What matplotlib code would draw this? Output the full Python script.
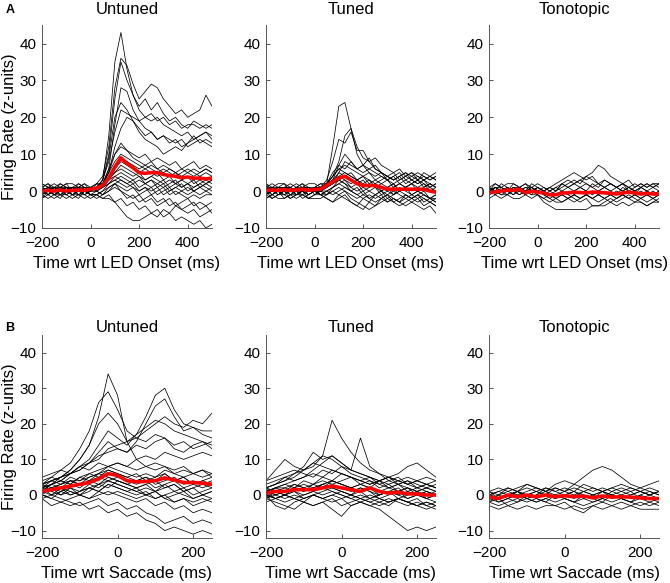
import numpy as np
import matplotlib
matplotlib.use('agg')
import matplotlib.pyplot as plt

plt.rcParams['font.family'] = ['Liberation Sans', 'DejaVu Sans']

# time grids (ms)
t_led = list(range(-200, 501, 25))
t_sac = list(range(-200, 251, 25))

# ---- A: aligned to LED onset ----
untuned_led = [
    [1,0,1,0,1,0,1,0,1, 1,3,15,35,43,33,26,23,25,22,24,21,19,20,18,17,19,18,17,18],
    [0,1,0,1,0,1,0,0,1, 2,4,12,28,36,34,29,25,27,29,28,25,23,21,22,20,21,22,26,23],
    [1,0,1,1,0,1,0,1,0, 1,3,10,25,35,30,26,22,20,21,19,20,18,19,17,18,18,17,18,17],
    [0,1,0,0,1,0,1,0,0, 1,2,6,18,28,27,22,19,17,16,14,15,14,13,14,12,13,14,13,12],
    [1,0,0,1,0,1,0,1,1, 1,3,8,16,22,21,20,19,20,19,20,18,17,16,15,16,14,15,16,15],
    [0,1,1,0,1,0,0,1,0, 1,2,5,12,17,20,19,16,14,13,12,10,11,12,11,13,14,15,16,14],
    [0,0,1,0,1,1,0,0,1, 1,2,5,10,13,11,9,8,7,8,6,7,6,5,6,5,6,5,6,5],
    [-1,0,-1,0,0,-1,0,-1,0, 0,1,3,6,8,7,6,5,6,5,4,5,4,5,3,4,3,4,3,4],
    [1,2,1,2,1,1,2,1,1, 2,2,4,5,6,5,4,5,3,4,5,3,4,2,3,4,2,3,2,3],
    [-1,-2,-1,-1,-2,-1,-1,-2,-1, -1,0,2,3,4,3,2,3,2,1,2,3,1,2,1,2,0,1,2,1],
    [2,1,2,1,2,2,1,2,1, 1,1,2,3,2,1,2,0,1,0,1,-1,0,1,0,-1,0,1,0,-1],
    [0,-1,0,-1,0,-1,0,0,-1, -1,-2,-1,-3,-5,-7,-8,-8,-7,-6,-7,-5,-6,-4,-5,-6,-5,-7,-6,-5],
    [-1,0,-1,0,-1,0,-1,0,-1, -1,-2,-2,-3,-2,-4,-3,-5,-4,-6,-5,-7,-6,-8,-7,-8,-9,-8,-10,-9],
    [1,0,1,0,0,1,0,1,0, 0,-1,1,2,0,-1,-2,-1,-3,-2,-4,-3,-2,-4,-3,-2,-4,-3,-4,-3],
    [0,1,0,1,1,0,1,0,1, 1,2,4,7,9,8,7,6,7,6,5,6,5,4,5,6,5,4,5,4],
    [0,0,1,0,0,1,1,0,0, 1,2,6,10,12,11,10,9,10,8,9,8,7,8,6,7,8,6,7,6],
    [-2,-1,-2,-1,-1,-2,-1,-1,-2, -1,0,1,2,3,2,1,0,1,-1,0,1,-1,0,-1,-2,-1,-2,-1,-1],
    [1,0,0,1,0,0,1,1,0, 1,3,9,20,24,22,19,17,15,16,14,15,13,14,12,13,15,13,14,13],
    [2,1,0,2,1,0,2,1,0, 2,1,3,4,3,2,3,1,2,3,1,2,0,1,2,0,1,2,1,0],
    [-1,1,-1,0,1,-1,0,1,-1, 0,1,2,4,5,4,3,4,2,3,2,1,2,3,1,2,3,1,2,3],
    [0,-1,1,-1,0,1,-1,0,1, 0,-1,0,1,0,-2,-1,-3,-2,-1,-3,-2,-4,-3,-5,-4,-3,-5,-4,-6],
    [1,-1,0,1,-1,0,1,-1,0, 1,2,5,8,10,9,8,7,6,7,6,5,6,5,4,5,4,5,6,5],
    [-2,0,-1,-2,0,-1,-2,0,-1, -2,-1,0,2,1,0,1,-1,0,1,-1,0,1,-1,0,1,0,-1,0,1],
    [1,2,0,1,2,0,1,2,0, 1,2,3,5,7,6,5,4,3,4,3,2,3,2,3,2,1,2,3,2],
]
untuned_led_mean = [0,0.2,0,0.3,0,0.2,0.3,0.2,0.5, 0.8,1.5,3.5,6.5,9,7.5,6.3,5,4.8,5,5,4.5,4.2,4,3.6,3.8,3.5,3.5,3.3,3.5]

tuned_led = [
    [0,1,0,1,0,1,0,0,1, 1,2,12,23,24,17,12,9,8,6,5,4,3,4,2,3,2,3,1,2],
    [1,0,1,0,1,0,1,1,0, 1,2,4,8,15,17,10,7,6,7,5,4,5,3,4,5,3,4,3,4],
    [0,1,1,0,0,1,0,1,0, 1,3,8,14,13,16,11,11,8,9,7,6,5,6,4,5,4,3,4,3],
    [-1,0,0,-1,0,0,-1,0,0, 0,1,3,7,10,8,6,5,6,5,4,3,4,2,3,2,3,1,2,1],
    [1,2,1,1,2,1,2,1,1, 2,2,5,7,6,8,6,7,5,4,5,3,4,5,3,4,5,4,3,4],
    [0,1,0,1,1,0,1,0,1, 1,2,3,5,4,5,3,4,2,3,2,3,1,2,1,2,1,2,0,1],
    [-1,-2,-1,-1,-2,-1,-1,-2,-1, -1,0,1,2,3,1,0,1,0,-1,0,-1,0,-1,-2,-1,-2,-1,-2,-2],
    [0,-1,0,-1,0,-1,0,-1,0, -1,-2,-3,-2,-1,-3,-4,-5,-3,-4,-2,-3,-2,-3,-1,-2,-3,-2,-3,-2],
    [0,1,0,0,1,0,0,1,0, 0,0,-1,0,1,0,-1,-2,-1,-2,-1,-3,-2,-3,-4,-3,-4,-5,-4,-6],
    [1,0,1,1,0,1,1,0,1, 1,2,4,6,5,4,3,2,3,1,2,1,2,0,1,0,1,0,1,0],
    [-2,-1,-2,-2,-1,-2,-1,-2,-2, -2,-1,0,1,0,-1,-2,-1,-2,-3,-2,-1,-2,-3,-2,-3,-2,-4,-3,-4],
    [2,1,2,2,1,2,1,2,2, 1,2,4,6,7,6,5,4,5,3,4,3,2,3,4,3,4,3,4,3],
    [0,0,1,0,1,0,0,1,0, 0,1,2,5,8,7,6,7,9,6,5,4,3,4,5,3,2,3,2,1],
    [1,0,0,1,0,0,1,0,0, 0,1,2,3,2,0,1,-1,0,1,-1,0,-1,1,0,-1,0,-1,-2,-1],
    [-1,0,-1,0,-1,-1,0,-1,0, -1,-1,0,-1,-2,-3,-4,-2,-3,-1,-2,-1,-3,-2,-1,-2,-1,-3,-2,-3],
    [1,1,0,1,1,0,1,1,0, 1,2,3,4,5,4,3,4,3,2,3,4,3,4,5,4,3,5,4,5],
    [2,0,1,2,0,1,2,0,1, 2,1,3,4,3,2,3,1,2,1,0,1,2,0,1,2,0,1,2,1],
    [-1,1,-1,0,1,-1,0,1,-1, 0,-1,1,2,1,0,-1,0,-2,-1,0,-2,-1,0,-1,-2,-1,0,-2,-1],
    [0,-2,-1,0,-2,-1,0,-2,-1, 0,1,2,3,2,1,2,0,1,2,1,0,1,2,1,2,3,2,1,2],
    [1,-1,0,1,-1,0,1,-1,0, -1,0,1,3,4,3,2,3,1,2,0,1,-1,0,1,-1,0,-1,-2,-3],
    [-2,-1,0,-2,-1,0,-2,-1,0, -1,-2,-3,-1,0,-2,-3,-4,-5,-4,-3,-2,-3,-4,-3,-2,-1,-2,-3,-4],
]
tuned_led_mean = [0.2,0.3,0.2,0.4,0.2,0.3,0.5,0.2,0.4, 0.5,1.5,2.5,3.5,4,3,2,1.5,1.5,1.5,1,0.5,0.5,0.5,0.5,0.5,0.5,0.5,0,-0.3]

tono_led = [
    [0,1,0,1,0,1,0,0,1, 0,-1,0,1,2,3,2,4,5,7,6,4,3,2,3,1,2,1,2,1],
    [1,0,2,1,0,1,2,0,1, 0,1,2,3,4,5,4,3,4,2,3,2,1,2,0,1,2,1,2,2],
    [0,-1,0,1,0,-1,0,0,-1, -3,-4,-5,-5,-5,-5,-5,-5,-4,-4,-4,-3,-4,-3,-4,-3,-3,-4,-3,-3],
    [-1,0,-1,0,-1,0,-1,0,0, -1,-2,-1,0,-1,-2,-3,-2,-4,-4,-3,-2,-3,-2,-1,-2,-3,-4,-3,-2],
    [1,2,1,2,2,1,2,1,2, 1,0,1,2,1,2,3,2,1,2,1,2,1,0,1,2,1,2,1,2],
    [-2,-1,-2,-1,-2,-2,-1,-2,-1, -2,-3,-2,-1,-2,-1,-2,-1,-2,-1,-2,-3,-2,-1,-2,-1,-2,-3,-2,-3],
    [0,1,0,0,1,0,1,0,0, -1,0,-1,0,1,0,1,0,2,1,3,2,1,0,1,0,-1,0,-1,0],
    [-1,0,-1,-1,0,-1,0,-1,-1, -2,-1,-2,-3,-2,-1,0,-1,0,-1,0,-1,-2,-1,-2,-1,0,-1,0,-1],
    [0,1,1,0,1,1,0,1,0, 0,1,0,2,1,2,3,4,3,2,1,0,1,2,1,0,1,0,1,0],
    [1,0,0,1,0,0,1,1,0, -1,-2,-3,-3,-2,-1,-2,-1,-2,-1,-2,-1,0,-1,0,-1,-2,-1,-2,-1],
    [-1,1,0,-1,1,0,-1,1,0, 1,0,1,0,-1,0,1,0,-1,0,1,0,-1,1,0,-1,1,0,-1,0],
    [1,-1,1,0,-1,1,0,-1,1, 0,-1,-2,-1,-2,-3,-2,-1,-2,-3,-2,-1,-2,-1,-2,-3,-2,-1,-2,-1],
    [0,2,1,0,2,1,0,2,1, 0,1,0,2,3,2,1,2,1,0,1,2,1,2,1,0,1,2,1,2],
]
tono_led_mean = [-0.5,-0.2,0,0.3,0.2,0.5,-0.5,0,-0.3, -0.5,-1,-1,-0.5,-0.5,-0.3,-0.4,-0.5,-0.3,-0.3,-0.5,-0.6,-0.8,-0.5,-0.3,-0.5,-0.8,-0.6,-0.8,-0.8]

# ---- B: aligned to saccade ----
untuned_sac = [
    [2,4,5,7,10,14,22,34,28,15,10,8,9,8,7,8,6,7,6],
    [3,5,7,9,13,18,26,29,24,18,16,15,17,16,14,15,13,14,15],
    [2,3,5,7,10,14,20,23,20,15,17,19,21,20,18,17,16,15,14],
    [3,4,5,6,8,10,14,18,16,14,17,22,28,30,24,20,19,18,18],
    [1,3,4,6,7,9,12,15,13,12,15,20,25,27,22,18,19,17,16],
    [2,3,4,6,7,9,10,13,14,15,16,18,20,22,20,19,21,20,23],
    [3,4,5,6,8,9,11,12,13,12,14,13,15,16,13,12,14,15,13],
    [5,6,7,6,8,7,9,8,9,8,7,8,7,8,6,7,6,5,6],
    [3,4,3,5,4,6,5,7,6,5,4,5,4,6,4,5,3,4,3],
    [1,2,0,2,1,3,2,4,3,2,1,2,1,3,1,2,0,1,2],
    [0,-1,1,0,1,2,1,3,2,1,0,1,-1,0,1,0,-1,0,1],
    [0,-1,-2,-3,-2,-4,-3,-5,-4,-6,-5,-7,-8,-10,-9,-10,-11,-10,-11],
    [1,0,-1,-2,-3,-2,-1,-3,-2,-4,-3,-5,-6,-8,-7,-6,-8,-7,-8],
    [2,1,0,1,0,-1,0,1,0,-1,-2,-1,-3,-2,-4,-3,-5,-4,-5],
    [-1,-3,-2,-1,0,-1,1,0,1,0,-1,0,1,-1,-2,-1,-2,-1,-2],
    [4,5,4,3,5,4,6,5,4,3,4,5,3,4,5,3,4,3,4],
    [2,3,4,3,5,6,7,8,7,6,5,6,5,7,6,5,6,7,5],
    [1,2,3,4,4,5,6,8,9,8,10,11,10,12,11,10,11,12,11],
    [3,2,3,4,3,4,5,4,5,4,3,4,2,3,4,2,3,2,3],
    [2,0,1,2,0,1,3,2,4,3,2,3,1,2,3,1,2,0,1],
    [0,2,1,3,2,4,3,5,4,3,2,3,4,2,3,1,2,3,2],
    [-1,0,2,1,0,2,3,4,3,2,1,0,-1,0,-2,-1,-3,-2,-1],
    [1,3,2,4,3,5,6,7,6,5,6,4,5,6,4,5,3,4,5],
    [3,1,2,0,1,2,1,3,2,1,2,0,1,-1,0,1,-1,0,-1],
]
untuned_sac_mean = [1,1.5,2,2.5,3,3.5,4.5,6,5.5,4,3.7,3.8,4,4.8,4.2,3.5,3.5,3.3,3]

tuned_sac = [
    [2,3,4,5,7,8,11,21,16,12,9,7,6,5,4,3,4,3,2],
    [1,2,3,4,5,7,9,11,9,7,16,8,6,4,5,3,2,3,2],
    [4,7,10,8,7,9,8,7,6,5,4,3,4,2,3,1,2,1,0],
    [2,3,4,6,8,12,10,11,9,7,6,5,4,5,3,4,2,3,2],
    [1,0,1,2,1,2,3,4,3,2,3,2,4,5,6,8,9,7,5],
    [0,-1,0,1,0,1,2,1,0,-1,-2,-3,-4,-6,-8,-10,-9,-10,-9],
    [3,4,5,4,5,6,5,7,6,5,4,5,3,4,3,4,3,2,3],
    [1,2,1,2,3,2,3,4,3,2,3,2,1,2,1,2,1,0,1],
    [-1,-2,-3,-4,-2,-3,-2,-1,-3,-2,-1,-2,-3,-2,-1,-2,-3,-2,-3],
    [0,-1,-2,-1,-2,-3,-2,-4,-6,-3,-2,-3,-2,-1,-2,-3,-2,-3,-4],
    [0,1,0,-1,0,1,0,1,0,-1,0,-1,0,1,0,-1,0,-1,0],
    [2,3,5,6,7,9,11,10,8,6,5,4,3,2,3,2,1,2,1],
    [1,2,2,3,2,3,4,3,4,5,4,3,4,5,4,3,4,3,4],
    [-1,0,-1,0,-1,0,-1,0,1,0,-1,-2,-1,-2,-1,-2,-3,-2,-3],
    [2,1,2,1,2,1,2,3,2,1,2,1,0,1,0,1,0,1,0],
    [0,-3,-4,-2,-1,0,-1,0,-1,0,-1,0,-1,-2,-1,-2,-1,-3,-2],
    [4,5,6,7,6,5,7,6,8,7,6,5,4,3,4,5,4,5,4],
    [1,-1,0,1,-1,0,1,2,1,0,1,-1,0,1,-1,0,1,-1,0],
    [-1,1,0,2,1,3,2,4,3,2,1,2,0,1,2,0,1,2,1],
    [2,0,1,3,2,1,3,2,1,0,2,1,-1,0,1,-1,0,-1,-2],
    [0,2,3,2,4,3,5,4,6,5,3,4,2,3,1,2,0,1,0],
    [-2,-1,0,-1,-2,0,-1,-2,-1,-3,-2,-1,-2,-3,-1,-2,-3,-4,-3],
]
tuned_sac_mean = [0.5,1,1,1.5,1.5,1.5,2,2.5,2,1.5,1,2,1,0.5,0.8,0.3,0.3,0,0]

tono_sac = [
    [0,1,0,1,0,1,0,2,1,3,5,7,8,7,5,3,2,1,0],
    [-1,0,1,0,1,2,1,3,4,3,2,1,2,1,2,1,2,3,4],
    [-3,-4,-3,-4,-3,-4,-3,-3,-4,-3,-4,-3,-4,-3,-4,-3,-4,-4,-4],
    [-2,-3,-2,-1,-2,-1,-2,-3,-2,-4,-5,-3,-2,-3,-2,-3,-2,-3,-2],
    [1,2,1,2,3,2,1,2,1,2,1,0,1,2,1,0,1,0,1],
    [-1,-2,-1,0,-1,-2,-1,0,-1,-2,-1,-2,-1,0,-1,-2,-1,-2,-1],
    [0,-1,0,1,0,1,0,-1,0,1,0,-1,1,0,-1,0,1,0,-1],
    [1,0,2,1,2,1,2,1,2,1,3,2,1,2,3,2,1,2,1],
    [-2,-1,-3,-2,-1,-2,-1,-2,-1,-2,-3,-2,-1,-2,-1,-2,-3,-2,-3],
    [0,1,2,1,3,2,1,0,1,0,1,2,1,0,1,2,1,0,1],
    [1,-1,0,1,-1,0,1,-1,0,1,-1,0,1,-1,0,1,-1,0,1],
    [-2,0,-1,-2,0,-1,-2,0,-1,-2,0,-1,-2,0,-1,-2,0,-1,-2],
    [0,-2,-1,1,-1,0,2,1,0,-1,1,0,-1,1,0,-1,0,1,0],
]
tono_sac_mean = [-0.5,-1,0,-0.5,0,-0.5,0,-0.5,-0.2,-0.5,-0.3,-0.8,-0.3,-0.6,-0.5,-0.6,-0.8,-1,-1]

titles = ['Untuned', 'Tuned', 'Tonotopic']


def draw_panel(ax, t, traces, mean, xlim, ylim, xticks, xlabel, title, tpad):
    for tr in traces:
        ax.plot(t, tr, color='black', lw=0.55)
    ax.plot(t, mean, color='#ff0000', lw=2.6, solid_capstyle='round')
    ax.set_xlim(xlim)
    ax.set_ylim(ylim)
    ax.set_xticks(xticks)
    ax.set_yticks([-10, 0, 10, 20, 30, 40])
    ax.spines['top'].set_visible(False)
    ax.spines['right'].set_visible(False)
    for s in ['left', 'bottom']:
        ax.spines[s].set_linewidth(0.7)
        ax.spines[s].set_color('#555555')
    ax.tick_params(direction='in', length=3, width=0.7, color='#555555', labelsize=11)
    ax.tick_params(axis='x', pad=6)
    ax.tick_params(axis='y', pad=4)
    ax.set_xlabel(xlabel, fontsize=12, labelpad=4)
    ax.set_title(title, fontsize=12, pad=tpad)


fig = plt.figure(figsize=(6.7, 5.83), dpi=100)
lefts = [0.0627, 0.397, 0.730]
w = 0.2537
h = 0.348

top_data = [(untuned_led, untuned_led_mean), (tuned_led, tuned_led_mean), (tono_led, tono_led_mean)]
bot_data = [(untuned_sac, untuned_sac_mean), (tuned_sac, tuned_sac_mean), (tono_sac, tono_sac_mean)]

for i in range(3):
    ax = fig.add_axes([lefts[i], 0.609, w, h])
    draw_panel(ax, t_led, top_data[i][0], top_data[i][1], (-200, 500), (-10, 45),
               [-200, 0, 200, 400], 'Time wrt LED Onset (ms)', titles[i], 8)
    if i == 0:
        ax.set_ylabel('Firing Rate (z-units)', fontsize=12)
        ax.yaxis.set_label_coords(-0.147, 0.5)

    ax = fig.add_axes([lefts[i], 0.0777, w, h])
    draw_panel(ax, t_sac, bot_data[i][0], bot_data[i][1], (-200, 250), (-12, 45),
               [-200, 0, 200], 'Time wrt Saccade (ms)', titles[i], 1.5)
    if i == 0:
        ax.set_ylabel('Firing Rate (z-units)', fontsize=12)
        ax.yaxis.set_label_coords(-0.147, 0.5)

fig.text(0.008, 0.983, 'A', fontsize=9, fontweight='bold', va='center')
fig.text(0.008, 0.438, 'B', fontsize=9, fontweight='bold', va='center')

fig.savefig('out.png', dpi=100)
